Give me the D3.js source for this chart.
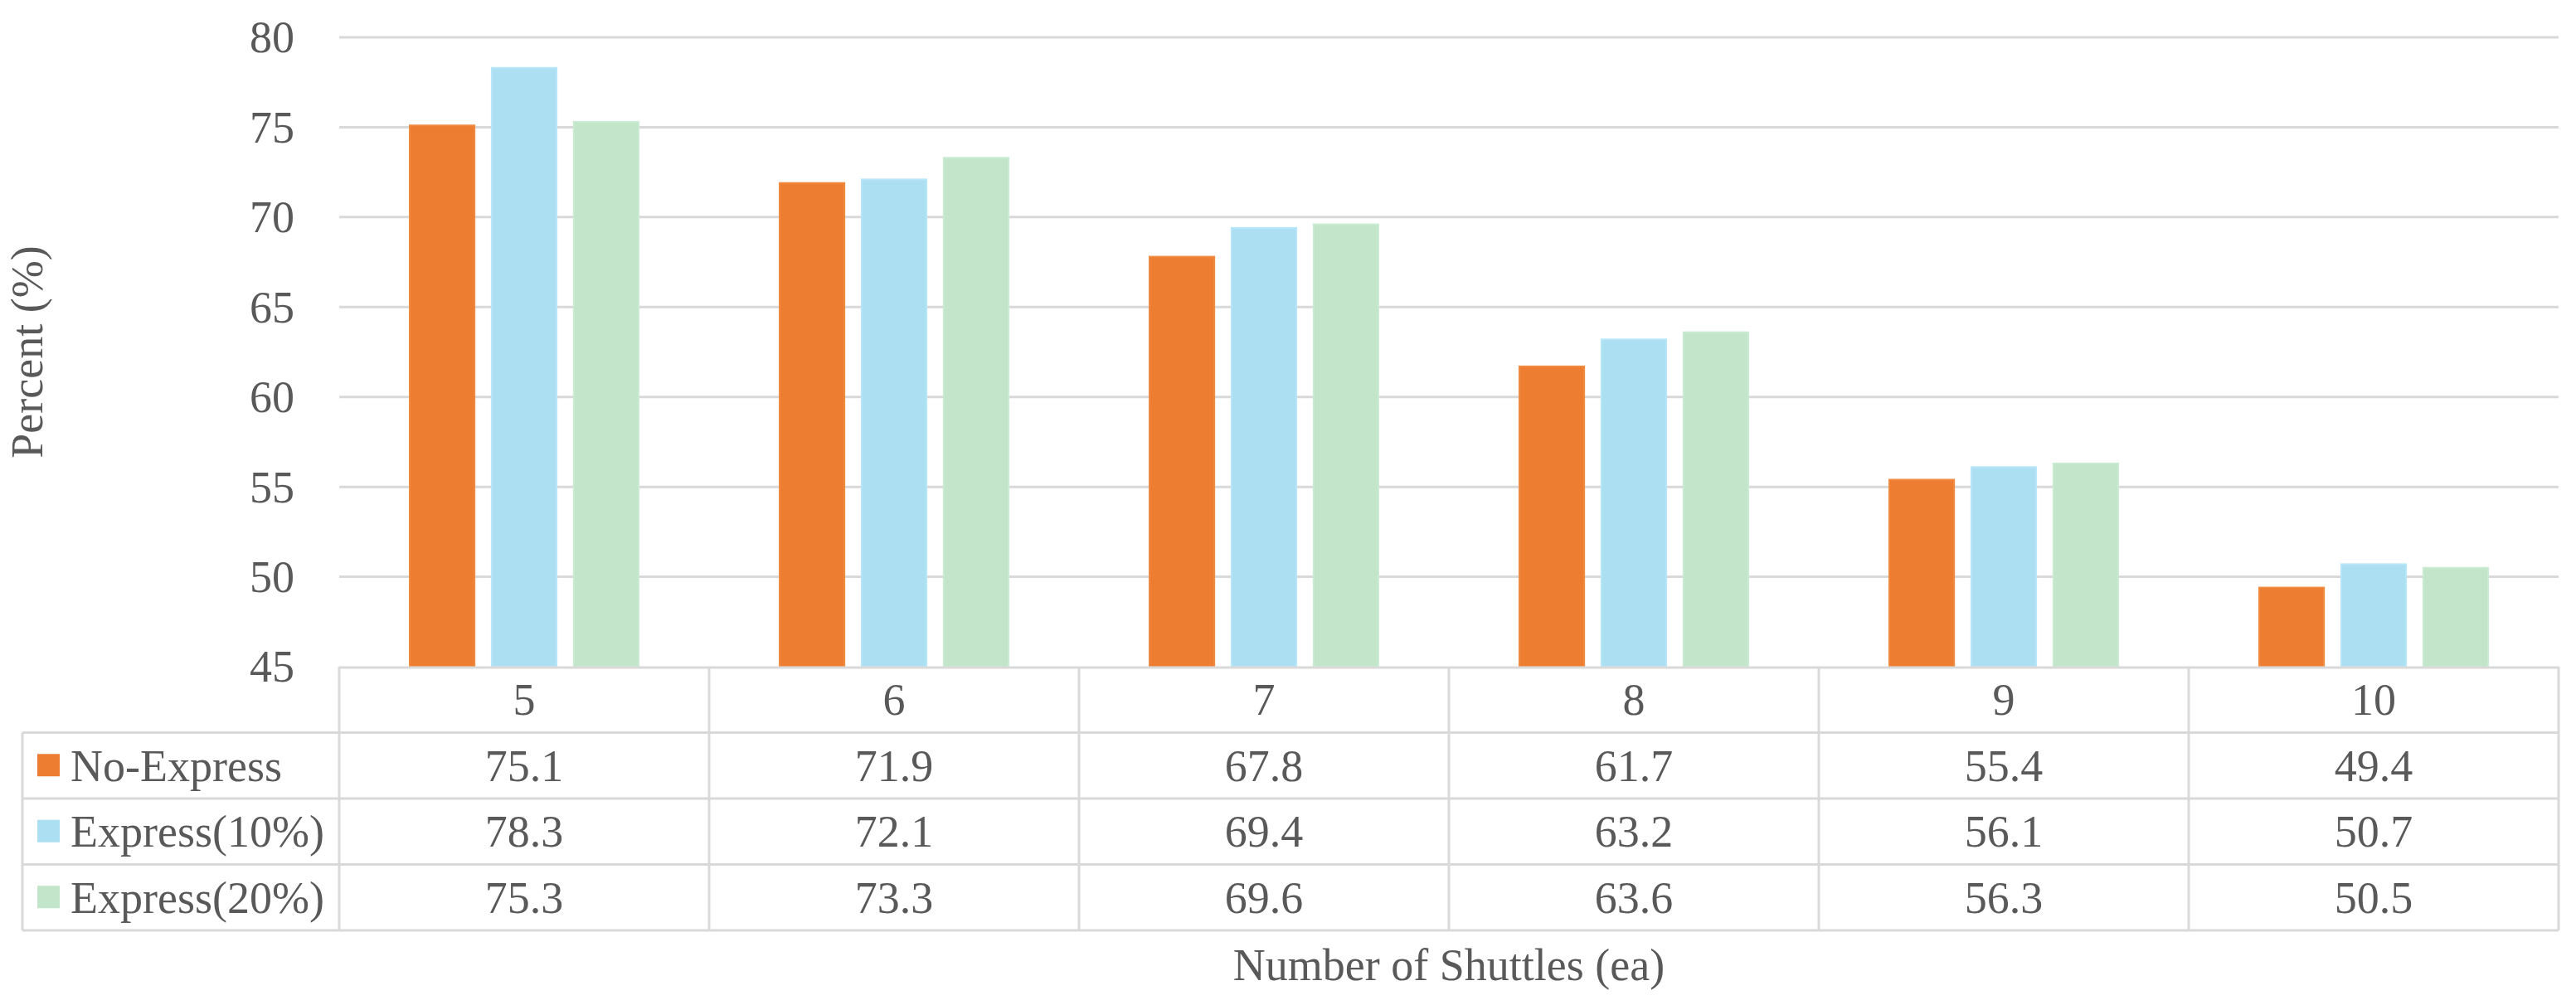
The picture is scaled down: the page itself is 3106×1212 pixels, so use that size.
<!DOCTYPE html>
<html>
<head>
<meta charset="utf-8">
<script src="https://cdn.jsdelivr.net/npm/d3@7"></script>
<style>
  html, body { margin: 0; padding: 0; background: #ffffff; }
  svg { display: block; }
  text { font-family: "Liberation Serif", "Times New Roman", serif; fill: #595959; }
</style>
</head>
<body>
<svg id="chart" width="3106" height="1212"></svg>
<script>
// ---- data ----
const categories = ["5", "6", "7", "8", "9", "10"];
const seriesNames = ["No-Express", "Express(10%)", "Express(20%)"];
const noExpress = [75.1, 71.9, 67.8, 61.7, 55.4, 49.4];
const express10 = [78.3, 72.1, 69.4, 63.2, 56.1, 50.7];
const express20 = [75.3, 73.3, 69.6, 63.6, 56.3, 50.5];
const yTicks = [45, 50, 55, 60, 65, 70, 75, 80];
const yTitle = "Percent (%)";
const xTitle = "Number of Shuttles (ea)";

const seriesValues = [noExpress, express10, express20];
const colors = ["#ED7D31", "#ADDFF3", "#C3E6CB"];
const strokes = ["#F08A40", "#B6E6F8", "#C9EBD1"];

// ---- layout ----
const W = 3106, H = 1212;
const plotLeft = 409, plotRight = 3085, plotTop = 45, plotBottom = 804;
const tableLeft = 27;
const rowH = 79.5;
const fontSize = 54;
const gridColor = "#D9D9D9";

const svg = d3.select("#chart");

const y = d3.scaleLinear().domain([45, 80]).range([plotBottom, plotTop]);
const x = d3.scaleBand().domain(categories).range([plotLeft, plotRight]).padding(0);
const xInner = d3.scaleBand().domain(seriesNames).range([-138, 138]).paddingInner(0.21);

// gridlines
svg.append("g").selectAll("line")
  .data(yTicks.filter(t => t > 45))
  .join("line")
  .attr("x1", plotLeft).attr("x2", plotRight)
  .attr("y1", d => y(d)).attr("y2", d => y(d))
  .attr("stroke", gridColor).attr("stroke-width", 3);

// y tick labels
svg.append("g").selectAll("text")
  .data(yTicks)
  .join("text")
  .attr("x", 355)
  .attr("y", d => y(d))
  .attr("dy", "0.34em")
  .attr("text-anchor", "end")
  .attr("font-size", fontSize)
  .text(d => d);

// bars
const flat = [];
seriesNames.forEach((s, si) => {
  categories.forEach((c, ci) => {
    flat.push({ s, si, c, v: seriesValues[si][ci] });
  });
});
svg.append("g").selectAll("rect")
  .data(flat)
  .join("rect")
  .attr("x", d => x(d.c) + x.bandwidth() / 2 + xInner(d.s))
  .attr("width", xInner.bandwidth())
  .attr("y", d => y(d.v))
  .attr("height", d => y(45) - y(d.v))
  .attr("fill", d => colors[d.si])
  .attr("stroke", d => strokes[d.si])
  .attr("stroke-width", 2);

// ---- data table ----
const tableTop = plotBottom;
const rowY = i => tableTop + rowH * i; // i=0 header top
const tableBottom = rowY(4);
const tg = svg.append("g");

// horizontal lines
tg.append("line").attr("x1", plotLeft).attr("x2", plotRight)
  .attr("y1", tableTop + 1).attr("y2", tableTop + 1)
  .attr("stroke", gridColor).attr("stroke-width", 3);
[1, 2, 3, 4].forEach(i => {
  tg.append("line").attr("x1", tableLeft).attr("x2", plotRight)
    .attr("y1", rowY(i)).attr("y2", rowY(i))
    .attr("stroke", gridColor).attr("stroke-width", 3);
});
// vertical lines
tg.append("line").attr("x1", tableLeft).attr("x2", tableLeft)
  .attr("y1", rowY(1)).attr("y2", tableBottom)
  .attr("stroke", gridColor).attr("stroke-width", 3);
categories.forEach(c => {
  tg.append("line").attr("x1", x(c)).attr("x2", x(c))
    .attr("y1", tableTop).attr("y2", tableBottom)
    .attr("stroke", gridColor).attr("stroke-width", 3);
});
tg.append("line").attr("x1", plotRight).attr("x2", plotRight)
  .attr("y1", tableTop).attr("y2", tableBottom)
  .attr("stroke", gridColor).attr("stroke-width", 3);

// header (categories)
tg.selectAll("text.cat")
  .data(categories)
  .join("text")
  .attr("class", "cat")
  .attr("x", d => x(d) + x.bandwidth() / 2)
  .attr("y", rowY(0) + rowH / 2)
  .attr("dy", "0.34em")
  .attr("text-anchor", "middle")
  .attr("font-size", fontSize)
  .text(d => d);

// rows
seriesNames.forEach((s, si) => {
  const cy = rowY(si + 1) + rowH / 2;
  tg.append("rect")
    .attr("x", 45).attr("y", cy - 14)
    .attr("width", 27).attr("height", 27)
    .attr("fill", colors[si]);
  tg.append("text")
    .attr("x", 85).attr("y", cy).attr("dy", "0.34em")
    .attr("font-size", fontSize)
    .text(s);
  tg.selectAll("text.v" + si)
    .data(seriesValues[si])
    .join("text")
    .attr("class", "v" + si)
    .attr("x", (d, i) => x(categories[i]) + x.bandwidth() / 2)
    .attr("y", cy).attr("dy", "0.34em")
    .attr("text-anchor", "middle")
    .attr("font-size", fontSize)
    .text(d => d.toFixed(1));
});

// axis titles
svg.append("text")
  .attr("transform", `translate(51, ${(plotTop + plotBottom) / 2}) rotate(-90)`)
  .attr("text-anchor", "middle")
  .attr("font-size", fontSize)
  .text(yTitle);

svg.append("text")
  .attr("x", (plotLeft + plotRight) / 2)
  .attr("y", 1182)
  .attr("text-anchor", "middle")
  .attr("font-size", fontSize)
  .text(xTitle);
</script>
</body>
</html>
